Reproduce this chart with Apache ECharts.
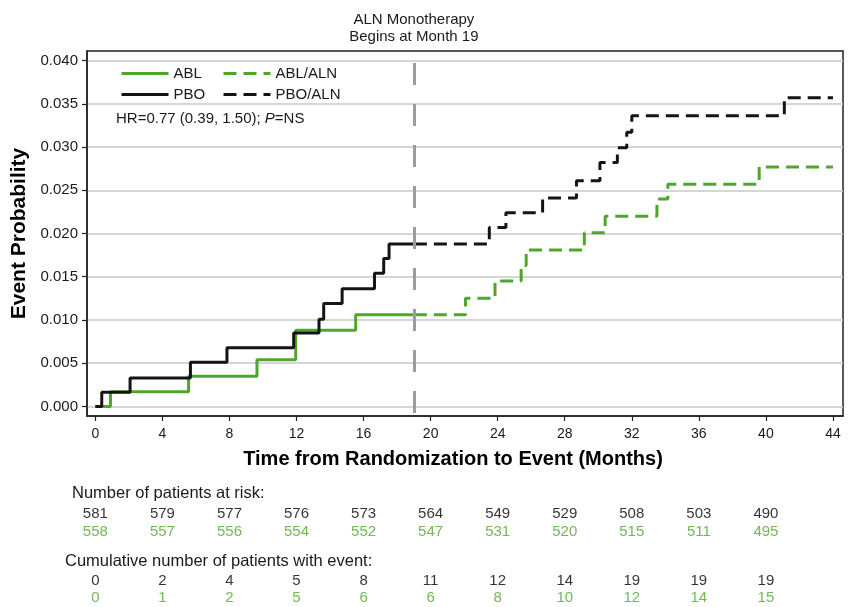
<!DOCTYPE html>
<html>
<head>
<meta charset="utf-8">
<script src="https://cdn.jsdelivr.net/npm/echarts@6/dist/echarts.min.js"></script>
<style>html,body{margin:0;padding:0;background:#fff}#c{width:850px;height:607px}</style>
</head>
<body>
<div id="c"></div>
<script>
// ---- data ----
const ablSteps = [[0,0],[0.9,0.0017],[5.56,0.0035],[9.64,0.0054],[11.95,0.0088],[15.53,0.0106],[19,0.0106]];
const pboSteps = [[0,0],[0.38,0.00165],[2.07,0.0033],[5.67,0.0051],[7.85,0.0068],[11.83,0.0085],[13.34,0.0101],[13.62,0.0119],[14.72,0.0136],[16.65,0.0154],[17.2,0.0171],[17.52,0.0188],[19,0.0188]];
const ablAlnSteps = [[19,0.0106],[22.08,0.0125],[23.84,0.0145],[25.4,0.0163],[25.7,0.0181],[29.17,0.0201],[30.41,0.0220],[33.5,0.0240],[34.15,0.0257],[39.6,0.0277],[44,0.0277]];
const pboAlnSteps = [[19,0.0188],[23.5,0.0207],[24.49,0.0224],[26.68,0.0241],[28.7,0.0261],[30.1,0.0282],[31.14,0.0299],[31.7,0.0317],[32.0,0.0336],[41.1,0.0357],[44,0.0357]];
const xTicks = [0,4,8,12,16,20,24,28,32,36,40,44];
const yTicks = [0,0.005,0.010,0.015,0.020,0.025,0.030,0.035,0.040];
const riskMonths = [0,4,8,12,16,20,24,28,32,36,40];
const atRiskPBO = [581,579,577,576,573,564,549,529,508,503,490];
const atRiskABL = [558,557,556,554,552,547,531,520,515,511,495];
const cumPBO = [0,2,4,5,8,11,12,14,19,19,19];
const cumABL = [0,1,2,5,6,6,8,10,12,14,15];
const monoStart = 19;

const GREEN = '#4fa62c', BLACK = '#141414', TXT = '#1a1a1a';
const FONT = 'Liberation Sans, Arial, Helvetica, sans-serif';

const chart = echarts.init(document.getElementById('c'), null, {renderer:'canvas'});

function riskSeries(name, vals, row, color){
  return {
    name, type:'scatter', xAxisIndex:1, yAxisIndex:1, symbolSize:0, silent:true,
    data: riskMonths.map((m,i)=>[m,row,vals[i]]),
    label:{show:true, position:'inside', formatter:p=>String(p.value[2]), color, fontSize:15, fontFamily:FONT},
    emphasis:{disabled:true}
  };
}

const option = {
  animation:false,
  textStyle:{fontFamily:FONT},
  grid:[
    {left:87, right:7, top:51, height:365, show:true, borderColor:'#222', borderWidth:1.5, backgroundColor:'transparent'},
    {left:87, right:7, top:514, height:84}
  ],
  xAxis:[{
    type:'value', min:-0.5, max:44.6, gridIndex:0,
    name:'Time from Randomization to Event (Months)', nameLocation:'middle', nameGap:33,
    nameTextStyle:{fontSize:20, fontWeight:'bold', color:'#000', padding:[0,24,0,0]},
    axisLine:{onZero:false, lineStyle:{color:'#222', width:1.5}},
    axisTick:{show:true, length:5, lineStyle:{color:'#222', width:1.2}, customValues:xTicks},
    axisLabel:{customValues:xTicks, fontSize:14, color:TXT, margin:11},
    splitLine:{show:false}
  },{
    type:'value', min:-0.5, max:44.6, gridIndex:1, show:false
  }],
  yAxis:[{
    type:'value', min:-0.0011, max:0.0411, gridIndex:0,
    name:'Event Probability', nameLocation:'middle', nameGap:47,
    nameTextStyle:{fontSize:21, fontWeight:'bold', color:'#000'},
    axisLine:{show:true, onZero:false, lineStyle:{color:'#222', width:1.5}},
    axisTick:{show:true, length:5, lineStyle:{color:'#222', width:1.2}, customValues:yTicks},
    axisLabel:{customValues:yTicks, fontSize:15, color:TXT, margin:9, formatter:v=>v.toFixed(3)},
    splitLine:{show:true, lineStyle:{color:'#c8c8c8', width:1.5}}
  },{
    type:'value', min:0, max:4.8, inverse:true, gridIndex:1, show:false
  }],
  legend:[
    {orient:'vertical', left:120, top:66, padding:0, itemGap:6, itemWidth:47, itemHeight:15,
     itemStyle:{opacity:0}, lineStyle:{width:3},
     data:['ABL','PBO'], textStyle:{fontSize:15, color:TXT}, selectedMode:false},
    {orient:'vertical', left:222, top:66, padding:0, itemGap:6, itemWidth:47, itemHeight:15,
     itemStyle:{opacity:0}, lineStyle:{width:3},
     data:['ABL/ALN','PBO/ALN'], textStyle:{fontSize:15, color:TXT}, selectedMode:false}
  ],
  graphic:[
    {type:'text', left:116, top:111, style:{text:'HR=0.77 (0.39, 1.50); {i|P}=NS', fontSize:15, fill:TXT, fontFamily:FONT,
      rich:{i:{fontStyle:'italic', fontSize:15, fill:TXT, fontFamily:FONT}}}},
    {type:'text', left:72, top:485, style:{text:'Number of patients at risk:', fontSize:16.5, fill:TXT, fontFamily:FONT}},
    {type:'text', left:65, top:553, style:{text:'Cumulative number of patients with event:', fontSize:16.5, fill:TXT, fontFamily:FONT}}
  ],
  series:[
    {name:'ABL', type:'line', step:'end', data:ablSteps, symbol:'none', color:GREEN,
     lineStyle:{color:GREEN, width:3}, z:3},
    {name:'ABL/ALN', type:'line', step:'end', data:ablAlnSteps, symbol:'none', color:GREEN,
     lineStyle:{color:GREEN, width:3, type:[13,7]}, z:3},
    {name:'PBO', type:'line', step:'end', data:pboSteps, symbol:'none', color:BLACK,
     lineStyle:{color:BLACK, width:3}, z:4},
    {name:'PBO/ALN', type:'line', step:'end', data:pboAlnSteps, symbol:'none', color:BLACK,
     lineStyle:{color:BLACK, width:3, type:[13,7]}, z:4},
    {name:'mono', type:'line', data:[], z:5,
     markLine:{silent:true, symbol:'none', animation:false,
       lineStyle:{color:'#9c9c9c', width:3, type:[22,19], dashOffset:38},
       label:{show:true, position:'end', distance:6, formatter:'ALN Monotherapy\nBegins at Month 19', color:TXT, fontSize:15, lineHeight:17, fontFamily:FONT},
       emphasis:{disabled:true},
       data:[{xAxis:monoStart}]}},
    riskSeries('rPBO', atRiskPBO, 0, '#000'),
    riskSeries('rABL', atRiskABL, 1, GREEN),
    riskSeries('cPBO', cumPBO, 3.83, '#000'),
    riskSeries('cABL', cumABL, 4.8, GREEN)
  ]
};
chart.setOption(option);
</script>
</body>
</html>
